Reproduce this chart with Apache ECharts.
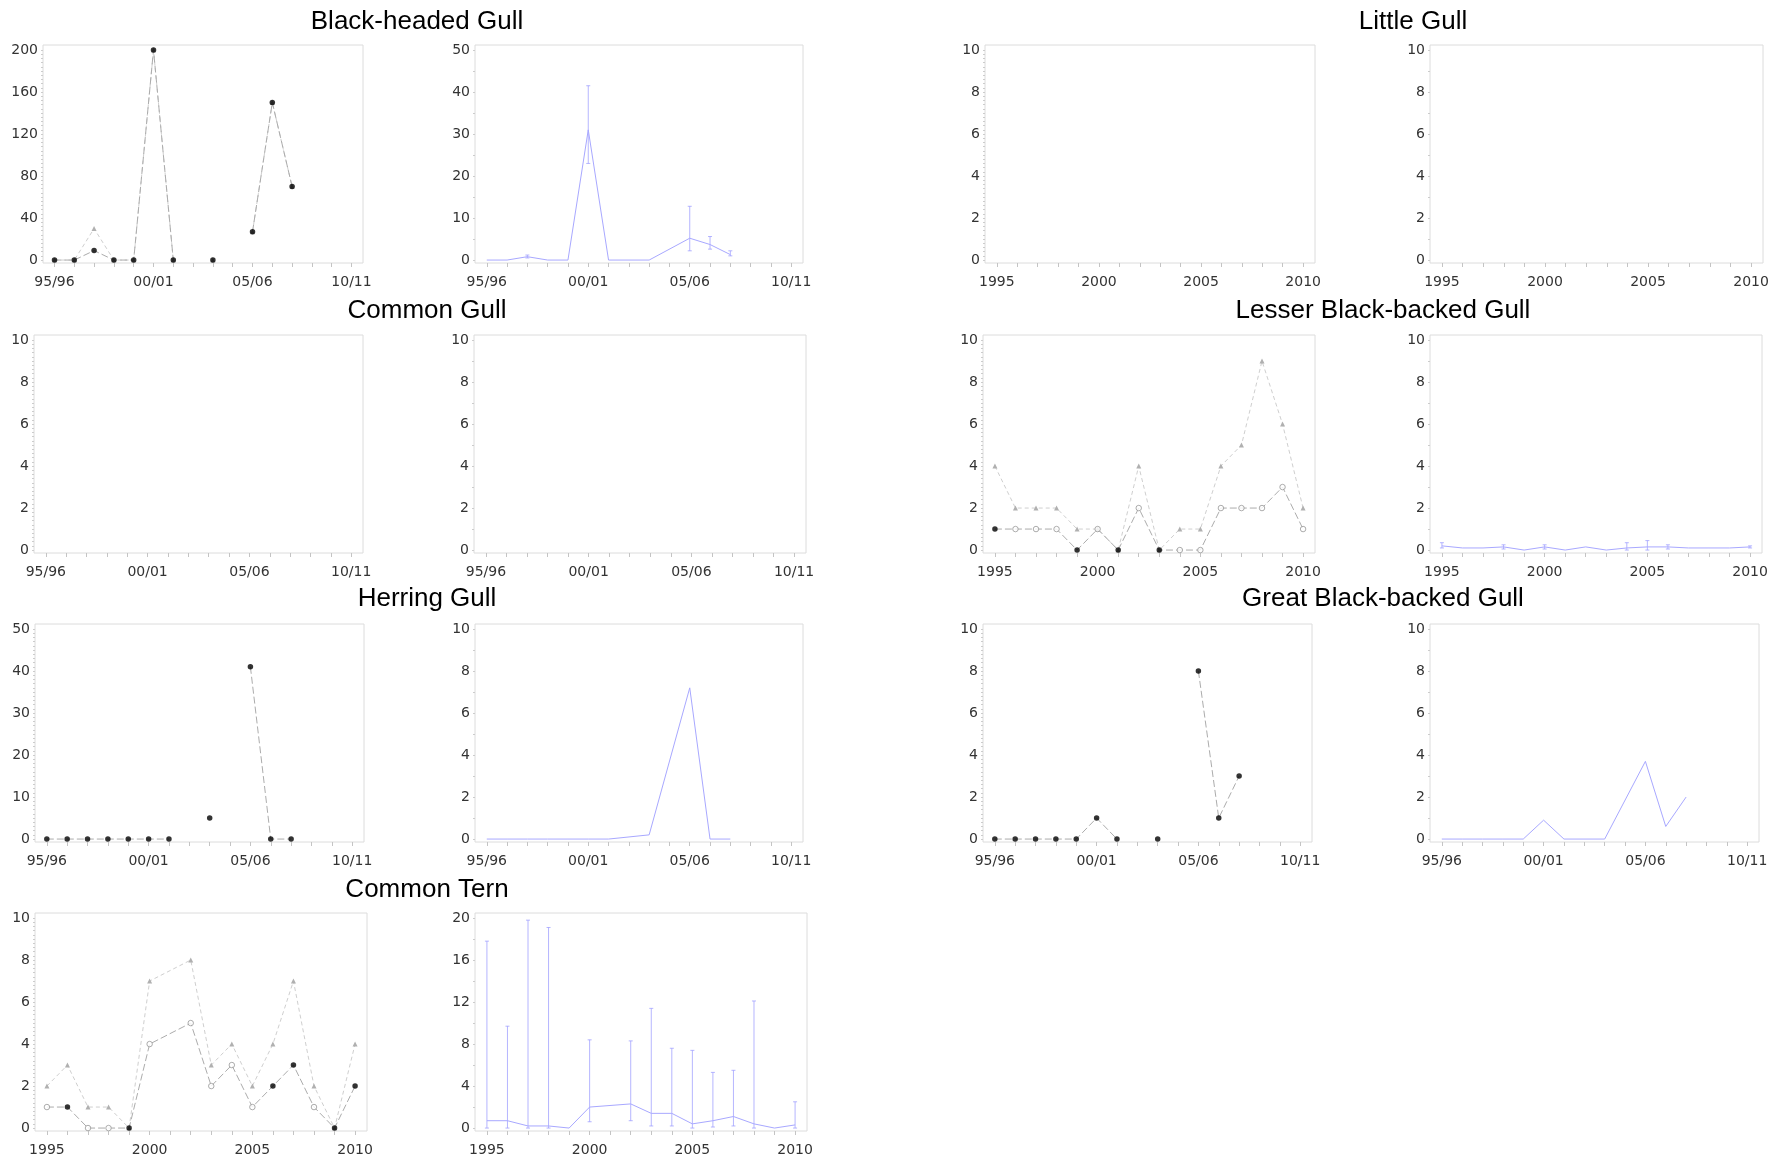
<!DOCTYPE html>
<html>
<head>
<meta charset="utf-8">
<script src="https://cdn.jsdelivr.net/npm/echarts@6/dist/echarts.min.js"></script>
<style>html,body{margin:0;padding:0;background:#fff}#c{width:1780px;height:1160px}</style>
</head>
<body>
<div id="c"></div>
<script>
// ---------------- DATA ----------------
const seasons = [1995,1996,1997,1998,1999,2000,2001,2002,2003,2004,2005,2006,2007]; // 95/96 .. 07/08
const years = [1995,1996,1997,1998,1999,2000,2001,2002,2003,2004,2005,2006,2007,2008,2009,2010];
const ternYears = [1995,1996,1997,1998,1999,2000,2002,2003,2004,2005,2006,2007,2008,2009,2010];

const panelTitles = ["Black-headed Gull","Little Gull","Common Gull","Lesser Black-backed Gull","Herring Gull","Great Black-backed Gull","Common Tern"];
const yearTickLabels = [1995,2000,2005,2010];

// Black-headed Gull
const bhgLeftLow  = [0,0,9,0,0,200,0,null,0,null,27,150,70];
const bhgLeftHigh = [0,0,30,0,0,200,0,null,0,null,27,150,70];
const bhgOpenYears = [];
const bhgRight     = [0,0,0.8,0,0,31,0,null,0,null,5.2,3.7,1.3];
const bhgRightLow  = [null,null,0.5,null,null,23,null,null,null,null,2.2,2.6,1.0];
const bhgRightHigh = [null,null,1.2,null,null,41.5,null,null,null,null,12.8,5.6,2.2];

// Herring Gull
const hgLeftLow = [0,0,0,0,0,0,0,null,5,null,41,0,0];
const hgOpenYears = [];
const hgRight   = [0,0,0,0,0,0,0,null,0.2,null,7.2,0,0];

// Great Black-backed Gull
const gbbgLeftLow = [0,0,0,0,0,1,0,null,0,null,8,1,3];
const gbbgOpenYears = [];
const gbbgRight   = [0,0,0,0,0,0.9,0,null,0,null,3.7,0.6,2.0];

// Lesser Black-backed Gull
const lbbgLow  = [1,1,1,1,0,1,0,2,0,0,0,2,2,2,3,1];
const lbbgHigh = [4,2,2,2,1,1,0,4,0,1,1,4,5,9,6,2];
const lbbgOpenYears = [1996,1997,1998,2000,2002,2004,2005,2006,2007,2008,2009,2010];
const lbbgRight     = [0.2,0.1,0.1,0.15,0,0.15,0,0.15,0,0.1,0.15,0.15,0.1,0.1,0.1,0.15];
const lbbgRightLow  = [0.1,null,null,0.05,null,0.05,null,null,null,0,0,0.05,null,null,null,0.1];
const lbbgRightHigh = [0.35,null,null,0.25,null,0.25,null,null,null,0.35,0.45,0.25,null,null,null,0.2];

// Common Tern
const ternLow  = [1,1,0,0,0,4,5,2,3,1,2,3,1,0,2];
const ternHigh = [2,3,1,1,0,7,8,3,4,2,4,7,2,0,4];
const ternOpenYears = [1995,1997,1998,2000,2002,2003,2004,2005,2008];
const ternRight     = [0.7,0.7,0.2,0.2,0,2.0,2.3,1.4,1.4,0.4,0.7,1.1,0.4,0,0.3];
const ternRightLow  = [0,0,0,0,null,0.6,0.7,0.2,0.2,0,0.1,0.2,0,null,0];
const ternRightHigh = [17.8,9.7,19.8,19.1,null,8.4,8.3,11.4,7.6,7.4,5.3,5.5,12.1,null,2.5];

// ---------------- LAYOUT ----------------
const H = 218;
const panels = [
  {box:[43,45,320], xs:'season', yMax:200, yStep:40, kind:'left', yrs:seasons, low:bhgLeftLow, high:bhgLeftHigh, open:bhgOpenYears},
  {box:[475,45,328], xs:'season', yMax:50, yStep:10, kind:'right', yrs:seasons, val:bhgRight, lo:bhgRightLow, hi:bhgRightHigh},
  {box:[985,45,330], xs:'year', yMax:10, yStep:2, kind:'leftEmpty'},
  {box:[1430,45,333], xs:'year', yMax:10, yStep:2, kind:'rightEmpty'},
  {box:[34,335,329], xs:'season', yMax:10, yStep:2, kind:'leftEmpty'},
  {box:[474,335,332], xs:'season', yMax:10, yStep:2, kind:'rightEmpty'},
  {box:[983,335,332], xs:'year', yMax:10, yStep:2, kind:'left', yrs:years, low:lbbgLow, high:lbbgHigh, open:lbbgOpenYears},
  {box:[1430,335,332], xs:'year', yMax:10, yStep:2, kind:'right', yrs:years, val:lbbgRight, lo:lbbgRightLow, hi:lbbgRightHigh},
  {box:[35,624,329], xs:'season', yMax:50, yStep:10, kind:'left', yrs:seasons, low:hgLeftLow, open:hgOpenYears},
  {box:[475,624,328], xs:'season', yMax:10, yStep:2, kind:'right', yrs:seasons, val:hgRight},
  {box:[983,624,329], xs:'season', yMax:10, yStep:2, kind:'left', yrs:seasons, low:gbbgLeftLow, open:gbbgOpenYears},
  {box:[1430,624,329], xs:'season', yMax:10, yStep:2, kind:'right', yrs:seasons, val:gbbgRight},
  {box:[35,913,332], xs:'year', yMax:10, yStep:2, kind:'left', yrs:ternYears, low:ternLow, high:ternHigh, open:ternOpenYears},
  {box:[475,913,332], xs:'year', yMax:20, yStep:4, kind:'right', yrs:ternYears, val:ternRight, lo:ternRightLow, hi:ternRightHigh}
];
const titlePos = [[417,22],[1413,22],[427,311],[1383,311],[427,599],[1383,599],[427,890]];

const pad2 = n => (n < 10 ? '0' : '') + n;
const seasonFmt = v => pad2(v % 100) + '/' + pad2((v + 1) % 100);
const BLUE = '#a8a8ff';
const LABEL = {fontFamily:'DejaVu Sans', fontSize:14, color:'#333'};

const grids = [], xAxes = [], yAxes = [], series = [];
panels.forEach((p, i) => {
  grids.push({left:p.box[0], top:p.box[1], width:p.box[2], height:H, show:true,
    borderColor:'#dcdcdc', borderWidth:1, backgroundColor:'transparent', outerBoundsMode:'none'});
  xAxes.push({type:'value', gridIndex:i, min:1994.42, max:2010.58,
    axisLine:{show:false, onZero:false},
    splitLine:{show:false},
    axisTick:{show:true, length:4, lineStyle:{color:'#c4c4c4'}, customValues: years},
    axisLabel:Object.assign({margin:12, customValues: yearTickLabels,
      formatter: p.xs === 'season' ? seasonFmt : (v => String(v))}, LABEL)
  });
  const yLabels = [], yTicks = [];
  for (let k = 0; k * p.yStep <= p.yMax + 1e-9; k++) yLabels.push(k * p.yStep);
  const fine = p.kind.startsWith('left') ? 50 : p.yMax / p.yStep * 2;
  for (let k = 0; k <= fine; k++) yTicks.push(+(k * p.yMax / fine).toFixed(4));
  yAxes.push({type:'value', gridIndex:i, min:-0.014 * p.yMax, max:1.024 * p.yMax,
    axisLine:{show:false, onZero:false},
    splitLine:{show:false},
    axisTick:{show:true, length:2, lineStyle:{color:'#cccccc'}, customValues: yTicks},
    axisLabel:Object.assign({margin:5, customValues: yLabels}, LABEL)
  });

  if (p.kind === 'left') {
    const lowPairs = p.yrs.map((y, j) => [y, p.low[j]]);
    if (p.high) {
      series.push({type:'line', xAxisIndex:i, yAxisIndex:i, data:p.yrs.map((y, j) => [y, p.high[j]]),
        symbol:'triangle', symbolSize:5, showSymbol:true, connectNulls:false,
        lineStyle:{color:'#cfcfcf', width:1, type:[4,3]}, itemStyle:{color:'#b0b0b0'}, z:2, silent:true});
    }
    series.push({type:'line', xAxisIndex:i, yAxisIndex:i, data:lowPairs, showSymbol:false, symbol:'none',
      connectNulls:false, lineStyle:{color:'#acacac', width:1, type:[7,3]}, z:3, silent:true});
    series.push({type:'scatter', xAxisIndex:i, yAxisIndex:i,
      data:lowPairs.filter(d => d[1] != null && p.open.indexOf(d[0]) < 0),
      symbol:'circle', symbolSize:5.5, itemStyle:{color:'#000'}, z:5, silent:true});
    series.push({type:'scatter', xAxisIndex:i, yAxisIndex:i,
      data:lowPairs.filter(d => d[1] != null && p.open.indexOf(d[0]) >= 0),
      symbol:'circle', symbolSize:5.5, itemStyle:{color:'#fff', borderColor:'#999', borderWidth:1}, z:4, silent:true});
  } else if (p.kind === 'right') {
    series.push({type:'line', xAxisIndex:i, yAxisIndex:i, data:p.yrs.map((y, j) => [y, p.val[j]]),
      symbol:'none', connectNulls:true, lineStyle:{color:BLUE, width:1}, z:3, silent:true});
    if (p.lo) {
      const eb = [];
      p.yrs.forEach((y, j) => { if (p.lo[j] != null && p.hi[j] != null) eb.push([y, p.lo[j], p.hi[j]]); });
      series.push({type:'custom', xAxisIndex:i, yAxisIndex:i, data:eb, encode:{x:0, y:[1,2]}, z:2, silent:true,
        renderItem:(params, api) => {
          const x = api.value(0);
          const a = api.coord([x, api.value(1)]), b = api.coord([x, api.value(2)]);
          const st = {stroke:'#9c9cff', lineWidth:1, opacity:0.75};
          return {type:'group', children:[
            {type:'line', shape:{x1:a[0], y1:a[1], x2:b[0], y2:b[1]}, style:st},
            {type:'line', shape:{x1:a[0]-2, y1:a[1], x2:a[0]+2, y2:a[1]}, style:st},
            {type:'line', shape:{x1:b[0]-2, y1:b[1], x2:b[0]+2, y2:b[1]}, style:st}
          ]};
        }});
    }
  }
});

const graphics = panelTitles.map((t, k) => ({type:'text', x:titlePos[k][0], y:titlePos[k][1],
  style:{text:t, fontFamily:'Liberation Sans, Arial, sans-serif', fontSize:26, fill:'#000',
    textAlign:'center', textVerticalAlign:'middle'}}));

const chart = echarts.init(document.getElementById('c'), null, {renderer:'canvas'});
chart.setOption({animation:false, backgroundColor:'#fff', grid:grids, xAxis:xAxes, yAxis:yAxes,
  series:series, graphic:graphics});
</script>
</body>
</html>
